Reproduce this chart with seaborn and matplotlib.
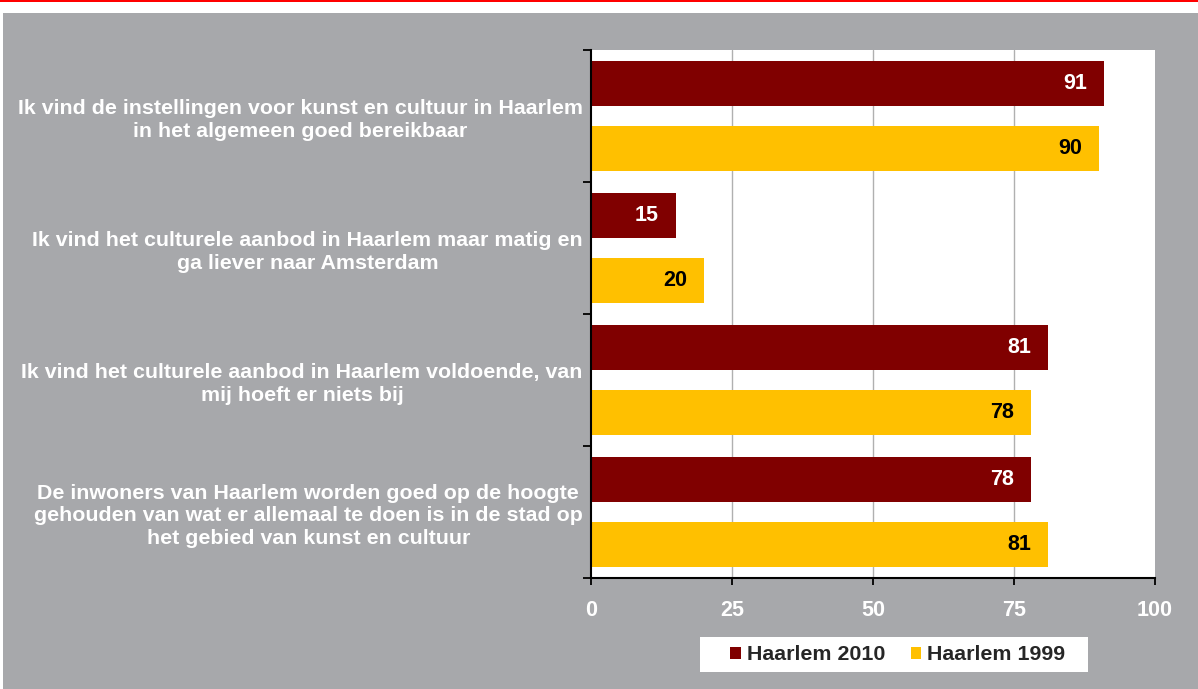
import matplotlib
matplotlib.use("Agg")
import matplotlib.pyplot as plt
from matplotlib.patches import Rectangle, Patch
import pandas as pd
import seaborn as sns

# data
statements = [
    "Ik vind de instellingen voor kunst en cultuur in Haarlem\nin het algemeen goed bereikbaar",
    "Ik vind het culturele aanbod in Haarlem maar matig en\nga liever naar Amsterdam",
    "Ik vind het culturele aanbod in Haarlem voldoende, van\nmij hoeft er niets bij",
    "De inwoners van Haarlem worden goed op de hoogte\ngehouden van wat er allemaal te doen is in de stad op\nhet gebied van kunst en cultuur",
]
series = ["Haarlem 2010", "Haarlem 1999"]
values_2010 = [91, 15, 81, 78]
values_1999 = [90, 20, 78, 81]
x_ticks = [0, 25, 50, 75, 100]

colors = {"Haarlem 2010": "#800000", "Haarlem 1999": "#FFC000"}
label_colors = {"Haarlem 2010": "white", "Haarlem 1999": "black"}
gray = "#A7A8AB"

df = pd.DataFrame({
    "statement": statements * 2,
    "series": [series[0]] * 4 + [series[1]] * 4,
    "value": values_2010 + values_1999,
})

sns.set_theme(style="white")
plt.rcParams["font.family"] = ["Liberation Sans", "DejaVu Sans"]
plt.rcParams["font.weight"] = "bold"

W, H = 1198, 689
fig = plt.figure(figsize=(W / 100, H / 100), dpi=100, facecolor="white")

# gray panel, red top rule, white legend box
fig.patches.append(Rectangle((3 / W, 0), 1, 1 - 13 / H, transform=fig.transFigure,
                             facecolor=gray, edgecolor="none", zorder=-10))
fig.patches.append(Rectangle((0, 1 - 2 / H), 1, 2 / H, transform=fig.transFigure,
                             facecolor="#FF0000", edgecolor="none", zorder=-10))
fig.patches.append(Rectangle((700 / W, 1 - 672 / H), 388 / W, 35 / H, transform=fig.transFigure,
                             facecolor="white", edgecolor="none", zorder=-5))

ax = fig.add_axes([591 / W, 1 - 578 / H, (1155 - 591) / W, (578 - 50) / H])
sns.barplot(data=df, y="statement", x="value", hue="series", hue_order=series,
            order=statements, palette=colors, width=0.98, gap=0.3, ax=ax,
            saturation=1, legend=False, edgecolor="none")

ax.set_facecolor("white")
ax.set_xlim(0, 100)
ax.set_ylim(3.5, -0.5)
ax.set_xticks(x_ticks)
ax.set_xticklabels([str(t) for t in x_ticks], color="white", fontsize=15.5, fontweight="bold")
ax.set_xlabel("")
ax.set_ylabel("")

ax.set_yticks(range(len(statements)))
ax.set_yticklabels(statements, color="white", fontsize=15.4, fontweight="bold",
                   ha="right", multialignment="center", linespacing=1.25)
ax.set_yticks([i - 0.5 for i in range(len(statements) + 1)], minor=True)
ax.tick_params(axis="y", which="major", left=True, length=0, pad=6)
ax.tick_params(axis="y", which="minor", left=True, length=6, width=1.3, color="black", direction="out")
ax.tick_params(axis="x", which="major", bottom=True, length=5, width=1.3, color="black",
               direction="out", pad=11)

for t in x_ticks[1:-1]:
    ax.axvline(t, color="#B0B0B0", lw=1, zorder=0)

for side in ["top", "right"]:
    ax.spines[side].set_visible(False)
for side in ["left", "bottom"]:
    ax.spines[side].set_color("black")
    ax.spines[side].set_linewidth(1.5)

# value labels inside bar ends
for cont, name in zip(ax.containers, series):
    for p in cont:
        w = p.get_width()
        ax.text(w - 3.0, p.get_y() + p.get_height() / 2, f"{w:.0f}",
                ha="right", va="center", color=label_colors[name],
                fontsize=15.5, fontweight="bold")

handles = [Patch(facecolor=colors[s], edgecolor="none", label=s) for s in series]
leg = fig.legend(handles=handles, loc="center", bbox_to_anchor=(898 / W, 1 - 655 / H),
                 ncol=2, frameon=False, handlelength=0.47, handleheight=0.47,
                 handletextpad=0.3, columnspacing=1.2, borderpad=0,
                 prop={"weight": "bold", "size": 15.4})

fig.savefig("out.png", dpi=100, facecolor="white")
